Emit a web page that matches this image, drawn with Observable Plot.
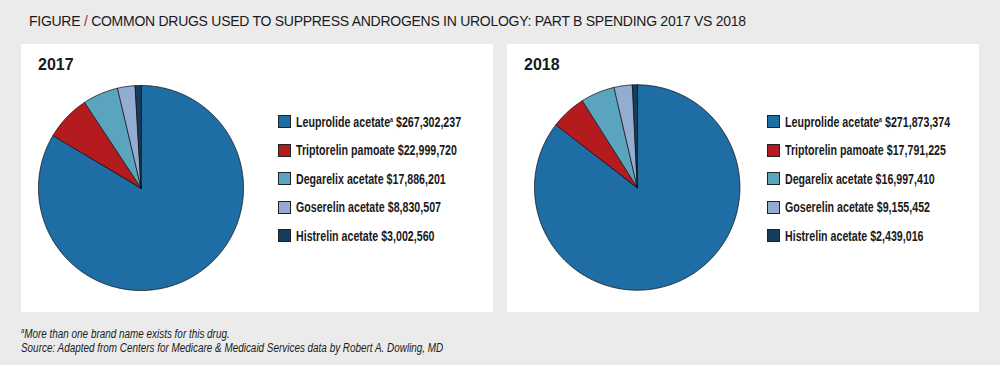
<!DOCTYPE html>
<html><head><meta charset="utf-8">
<script src="https://cdn.jsdelivr.net/npm/d3@7"></script>
<script src="https://cdn.jsdelivr.net/npm/@observablehq/plot@0.6"></script>
<style>
html,body{margin:0;padding:0}
body{background:#ebebeb;width:1000px;height:365px;overflow:hidden;position:relative;font-family:"Liberation Sans",Arial,sans-serif;color:#1a1a1a}
#title{position:absolute;left:29px;top:14px;font-size:14px;line-height:1;letter-spacing:-0.27px;white-space:nowrap}
#title .sl{color:#b3203c}
.panel{position:absolute;top:44px;width:472px;height:268px;background:#fff}
.panel svg{position:absolute;left:0;top:0}
.year{position:absolute;left:17px;top:12.5px;font-weight:bold;font-size:16px;line-height:1}
.row{position:absolute;white-space:nowrap;font-family:"Liberation Sans",Arial,sans-serif;font-weight:bold;font-size:14px;line-height:1;transform-origin:0 0}
.sw{position:absolute;width:11px;height:11px;border:1px solid #222}
.row sup{font-size:7px;vertical-align:5px;line-height:0}
.foot{position:absolute;left:21px;font-family:"Liberation Sans",Arial,sans-serif;font-style:italic;font-size:12px;line-height:1;white-space:nowrap;transform-origin:0 0}
.foot sup{font-size:7px;vertical-align:4px;line-height:0}
</style>
</head><body>
<div id="title">FIGURE <span class="sl">/</span> COMMON DRUGS USED TO SUPPRESS ANDROGENS IN UROLOGY: PART B SPENDING 2017 VS 2018</div>
<div id="p0" class="panel" style="left:21px"></div>
<div id="p1" class="panel" style="left:507px"></div>
<div class="foot" id="f1" style="top:326.5px"><sup>a</sup>More than one brand name exists for this drug.</div>
<div class="foot" id="f2" style="top:340.5px">Source: Adapted from Centers for Medicare &amp; Medicaid Services data by Robert A. Dowling, MD</div>
<script>
const drugs = ["Leuprolide acetate", "Triptorelin pamoate", "Degarelix acetate", "Goserelin acetate", "Histrelin acetate"];
const footnoted = [true, false, false, false, false];
const years = ["2017", "2018"];
const spend2017 = [267302237, 22999720, 17886201, 8830507, 3002560];
const spend2018 = [271873374, 17791225, 16997410, 9155452, 2439016];
const colors = ["#1f6da5", "#b31b1e", "#5ba4be", "#93acd2", "#173d5d"];

const panels = [
  {id: "p0", year: years[0], values: spend2017, cx: 119.5, cy: 143.5, r: 102.5, lx: 257},
  {id: "p1", year: years[1], values: spend2018, cx: 129.7, cy: 143, r: 102.7, lx: 260}
];
const rowTops = [77, 105.5, 134, 162.5, 191];
const fmt = d3.format(",");

// condensed look: squeeze normal-width text horizontally
let legendScale = null;

for (const p of panels) {
  const rows = drugs.map((drug, i) => ({drug, value: p.values[i]}));
  const arcs = d3.pie().sort(null).value(d => d.value).startAngle(0).endAngle(2 * Math.PI)(rows);
  const pts = [];
  for (const a of arcs) {
    const drug = a.data.drug;
    pts.push({drug, x: 0, y: 0});
    const n = Math.max(2, Math.ceil((a.endAngle - a.startAngle) / (Math.PI / 360)));
    for (let k = 0; k <= n; k++) {
      const t = a.startAngle + (a.endAngle - a.startAngle) * k / n;
      pts.push({drug, x: Math.sin(t), y: -Math.cos(t)});
    }
  }
  const chart = Plot.plot({
    width: 472, height: 268, margin: 0,
    style: {background: "transparent", overflow: "visible"},
    x: {domain: [-1, 1], range: [p.cx - p.r, p.cx + p.r], axis: null},
    y: {domain: [-1, 1], range: [p.cy - p.r, p.cy + p.r], axis: null},
    color: {domain: drugs, range: colors},
    marks: [
      Plot.line(pts, {x: "x", y: "y", z: "drug", fill: "drug", stroke: "#111", strokeWidth: 0.8, strokeLinejoin: "round", curve: "linear-closed"})
    ]
  });
  const el = document.getElementById(p.id);
  el.appendChild(chart);
  const yr = document.createElement("div");
  yr.className = "year"; yr.textContent = p.year; el.appendChild(yr);
  const color = chart.scale("color");
  rows.forEach((d, i) => {
    const sw = document.createElement("div");
    sw.className = "sw";
    sw.style.left = p.lx + "px";
    sw.style.top = (rowTops[i] - 6) + "px";
    sw.style.background = color.apply(d.drug);
    el.appendChild(sw);
    const row = document.createElement("div");
    row.className = "row";
    row.style.left = (p.lx + 18) + "px";
    row.style.top = (rowTops[i] - 7.3) + "px";
    row.innerHTML = d.drug + (footnoted[i] ? "<sup>a</sup>" : "") + " $" + fmt(d.value);
    el.appendChild(row);
    if (legendScale === null) legendScale = 165 / row.offsetWidth;
    row.style.transform = `scale(${legendScale}, 1.08)`;
  });
}
const f1 = document.getElementById("f1"), f2 = document.getElementById("f2");
const fs = 422 / f2.offsetWidth;
for (const f of [f1, f2]) f.style.transform = `scale(${fs}, 1.06)`;
</script>
</body></html>
